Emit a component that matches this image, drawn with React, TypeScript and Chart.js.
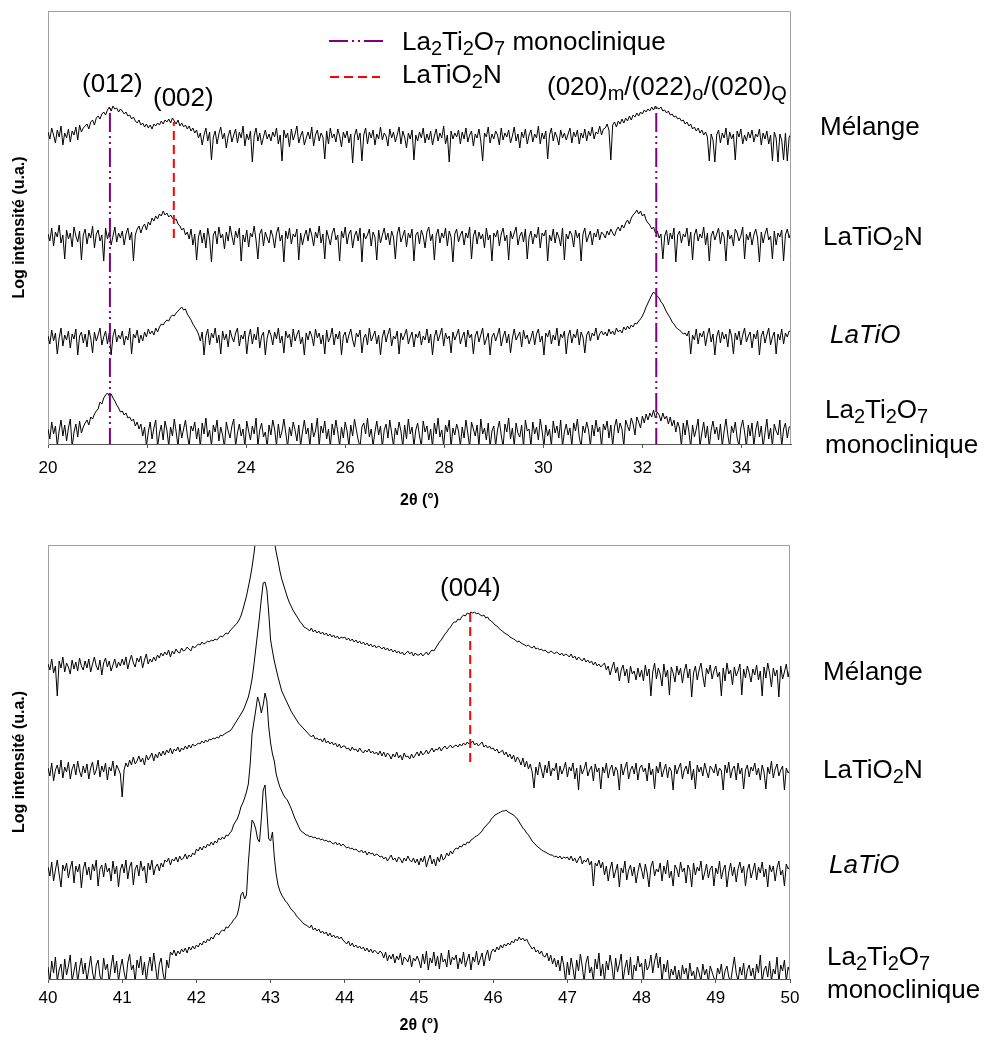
import React, { useEffect, useRef } from "react";
import { Chart, registerables } from "chart.js";

Chart.register(...registerables);

const FONT = '"Liberation Sans", Arial, Helvetica, sans-serif';
const PURPLE = "#800080";
const RED = "#ff0000";
const PURPLE_DASH = [19, 4, 2, 4, 2, 4];
const RED_DASH = [9, 5];

// 2θ sampling of the scans
const TOP_START = 20;
const TOP_STEP = 0.0375;
const BOT_START = 40;
const BOT_STEP = 0.025;

const TOP_TICKS = [20, 22, 24, 26, 28, 30, 32, 34];
const BOT_TICKS = [40, 41, 42, 43, 44, 45, 46, 47, 48, 49, 50];

// ---------- upper panel (20–35°), stacked log intensities ----------
const TOP_MELANGE = [
  312,305,316,309,301,314,307,318,299,311,306,315,302,313,309,317,304,319,312,316,
  318,320,315,322,324,319,326,328,325,330,332,329,334,337,333,338,335,336,332,335,
  333,330,332,328,329,325,327,323,321,324,319,321,317,320,316,319,315,320,318,321,
  319,323,320,324,322,325,321,326,323,320,324,318,321,317,319,315,318,313,316,311,
  314,306,311,299,309,316,303,312,284,307,313,300,310,317,305,311,296,308,314,302,
  309,315,301,312,306,318,298,310,304,313,282,308,316,303,311,299,307,314,305,310,
  303,312,307,316,300,309,283,314,306,311,297,315,304,310,318,301,308,313,299,306,
  312,305,317,298,309,314,303,311,307,285,313,300,316,306,310,302,315,308,297,312,
  306,313,301,310,281,308,315,304,311,283,309,316,300,312,306,314,299,310,305,317,
  304,311,308,298,315,306,312,302,309,317,300,313,307,296,311,305,314,284,309,303,
  312,306,316,301,310,304,313,299,308,315,303,311,306,318,300,309,282,313,305,311,
  307,314,300,312,305,316,302,309,313,298,310,306,315,303,283,311,307,317,301,310,
  305,313,309,299,316,304,311,307,314,301,308,317,303,310,296,312,306,315,300,309,
  314,302,310,306,318,300,311,305,313,285,309,316,303,312,307,299,314,306,311,304,
  310,316,301,312,307,314,300,311,306,315,303,313,308,317,305,312,310,318,309,315,
  316,320,314,284,319,322,317,323,320,325,321,326,323,328,324,329,327,331,328,332,
  330,334,332,335,333,337,334,338,336,335,337,333,334,331,333,329,330,327,328,325,
  326,323,324,320,322,318,320,315,317,313,316,311,314,309,312,307,283,310,304,282,
  309,314,301,311,306,316,299,312,305,310,284,313,307,315,300,309,303,312,306,314,
  302,310,307,315,299,311,305,313,300,309,283,312,306,282,310,304,284,311,283,307,
  310,
];
const TOP_LATIO2N = [
  210,203,216,198,212,207,219,201,209,185,214,205,211,197,217,208,202,213,184,209,
  215,200,211,206,218,196,210,214,203,209,183,216,205,212,199,208,217,202,211,206,
  213,199,210,216,204,212,183,209,215,218,211,217,220,214,222,219,226,223,228,225,
  230,228,233,229,231,227,229,226,224,225,220,218,214,216,209,212,205,215,199,210,
  184,207,214,201,211,196,216,205,182,209,213,200,217,206,210,195,212,203,218,208,
  199,213,206,216,183,209,202,214,197,211,207,218,204,185,210,215,198,212,206,201,
  214,208,196,211,217,203,209,182,213,205,216,200,210,207,215,184,211,199,208,214,
  203,216,209,198,212,206,218,201,210,185,214,207,199,211,216,204,209,183,213,206,
  217,200,210,214,196,208,213,203,216,182,211,205,209,215,198,212,207,184,214,201,
  209,216,204,211,199,213,207,185,210,217,202,208,214,197,211,206,215,183,209,212,
  200,214,208,196,212,217,203,210,184,209,215,201,211,206,216,198,213,207,182,210,
  215,202,209,213,199,211,206,217,185,208,214,200,212,205,210,196,216,204,209,183,
  211,207,214,198,210,216,203,209,184,213,205,211,217,199,208,212,202,215,185,207,
  213,200,210,206,217,196,211,208,214,183,209,203,215,201,212,207,198,216,184,210,
  205,213,209,197,214,206,211,183,210,216,202,208,213,199,211,207,215,204,212,210,
  206,213,209,215,211,208,214,217,213,219,216,221,224,220,226,229,231,234,230,233,
  228,230,224,221,219,215,217,211,213,206,210,185,208,214,199,211,205,216,182,209,
  213,201,210,207,216,198,212,184,209,215,203,210,206,217,199,211,183,208,213,204,
  210,216,200,212,207,183,214,205,209,198,215,211,203,208,217,185,210,204,212,199,
  209,215,206,182,212,201,210,216,204,208,185,213,199,211,207,214,183,209,215,206,
  212,
];
const TOP_LATIO = [
  108,100,114,103,111,90,106,116,98,109,104,113,96,110,105,115,89,108,112,101,
  110,97,114,106,91,112,103,109,116,99,107,113,100,111,89,108,115,102,109,105,
  113,99,108,104,116,90,110,106,114,101,109,103,112,107,115,110,113,109,116,112,
  117,120,119,122,124,123,127,129,128,131,133,135,137,134,135,130,127,124,120,117,
  114,110,103,112,89,108,115,99,111,106,116,101,109,90,113,104,110,97,114,107,
  102,111,116,98,109,105,113,90,107,115,100,110,104,117,96,108,112,89,106,114,
  109,99,112,105,116,101,108,91,113,106,110,97,115,103,109,114,100,107,89,111,
  104,113,108,98,115,106,111,100,109,90,114,102,107,116,99,110,105,113,89,108,
  112,101,109,115,104,97,111,107,114,91,106,110,99,116,103,108,113,100,109,89,
  107,114,102,110,116,98,108,105,113,90,111,104,109,115,100,107,112,97,110,106,
  113,99,108,104,115,101,110,89,107,114,103,109,116,98,111,105,108,91,112,104,
  109,115,100,107,112,97,114,106,110,90,108,113,102,109,116,99,105,111,89,107,
  111,103,109,116,98,107,113,101,110,91,106,115,104,108,112,97,114,105,109,100,
  106,113,99,110,115,102,108,89,111,107,114,100,109,104,116,98,110,106,113,90,
  108,114,101,110,106,115,99,112,107,91,109,113,103,111,108,116,104,110,113,109,
  112,108,115,110,113,109,116,112,114,111,117,114,118,115,119,117,121,120,123,125,
  128,132,137,141,145,149,152,150,148,146,142,140,136,132,129,126,122,120,117,115,
  114,112,110,111,108,113,90,109,104,115,100,111,107,113,98,109,116,102,110,89,
  107,114,101,112,105,110,97,115,108,90,111,104,113,99,109,116,102,108,112,96,
  110,105,114,89,108,113,101,109,116,99,107,112,90,110,104,115,100,111,107,113,
  112,
];
const TOP_LA2TI2O7 = [
  15,5,22,10,18,-2,13,24,8,19,3,16,25,-3,12,20,7,23,11,17,
  21,24,19,27,25,30,33,35,42,40,46,49,51,48,50,46,43,39,36,32,
  33,29,31,26,27,23,25,18,22,15,20,8,17,-2,12,22,5,16,24,-3,
  11,19,4,23,14,-2,17,8,25,12,-3,20,6,15,24,9,-2,18,13,22,
  5,16,-3,21,10,26,7,14,-2,19,12,24,3,17,9,-3,22,13,6,18,
  25,-2,11,20,8,15,-3,23,13,4,18,10,26,-2,14,21,7,12,-3,19,
  9,24,15,-2,20,6,13,25,11,-3,17,8,22,14,3,19,-2,12,24,10,
  16,-3,21,7,13,26,-2,18,11,23,5,15,-3,20,9,24,12,-2,17,6,
  22,13,-2,19,8,25,14,4,-3,17,21,10,26,7,15,-2,12,23,9,18,
  -3,14,20,6,24,11,-2,16,9,22,13,-3,19,5,25,10,17,-2,14,21,
  8,-2,23,12,18,4,15,-3,21,10,26,7,14,-2,19,12,24,-3,16,9,
  20,13,-2,17,6,24,11,-3,22,15,8,19,-2,25,10,16,4,21,-3,13,
  18,-2,14,23,9,-3,20,12,26,5,16,-2,21,11,7,19,-3,24,13,15,
  -2,22,10,17,4,25,13,-3,19,8,15,-2,23,11,18,6,24,-3,12,20,
  9,16,-2,21,13,25,7,-3,18,11,22,14,-2,19,8,24,12,17,-3,20,
  14,23,6,19,-2,17,25,11,21,15,-2,24,18,13,26,20,9,27,22,16,
  28,21,30,24,31,27,34,26,32,29,23,31,25,28,20,27,18,24,12,22,
  16,-2,21,9,24,13,-3,19,7,15,25,-2,11,22,6,18,-3,14,23,10,
  17,4,20,-2,13,25,9,-3,18,11,22,6,-2,16,24,12,-3,19,8,21,
  -2,14,23,7,18,-3,11,25,5,16,-2,20,13,9,24,-3,15,21,6,17,
  18,
];

// ---------- lower panel (40–50°) ----------
const BOT_MELANGE = [
  315,309,320,306,313,283,318,311,322,307,316,312,305,319,310,317,308,321,313,309,
  318,311,320,307,315,322,313,309,319,304,316,321,312,318,308,314,320,311,317,313,
  320,314,322,310,318,324,316,312,321,317,323,311,319,325,315,320,317,322,318,324,
  321,326,323,327,324,329,322,328,325,330,327,326,331,328,329,332,330,328,333,331,
  333,335,334,337,335,336,338,337,339,338,340,339,341,343,342,344,346,345,348,350,
  352,354,356,359,363,369,376,383,392,401,412,425,440,460,480,500,520,524,515,500,
  480,458,438,427,418,408,400,394,388,382,377,373,369,366,363,360,357,355,352,351,
  350,348,351,347,349,346,348,345,347,344,346,343,345,342,344,341,343,340,342,341,
  342,339,341,338,340,337,339,336,338,335,337,334,336,333,335,332,334,331,333,332,
  330,332,329,331,328,330,327,329,326,328,325,327,324,326,328,325,327,323,326,324,
  324,326,323,325,327,324,327,329,328,331,334,337,339,342,345,347,350,352,355,357,
  357,360,359,362,364,363,366,365,367,366,367,365,366,364,363,364,361,362,359,358,
  356,354,353,351,349,348,346,345,344,342,341,340,339,337,338,336,335,334,333,334,
  332,331,333,330,331,329,330,328,329,327,326,328,327,325,327,326,324,326,323,325,
  324,322,325,321,323,319,322,320,318,321,317,319,316,318,314,317,313,315,312,314,
  316,309,313,304,311,317,306,312,298,309,314,303,310,296,313,305,308,299,311,302,
  309,298,314,303,310,283,307,316,300,311,305,293,315,302,309,284,312,306,297,313,
  304,311,296,308,315,301,310,282,306,313,299,309,316,303,292,311,305,314,300,308,
  313,302,307,283,311,298,316,305,309,294,312,303,308,315,284,310,301,313,306,297,
  310,304,314,299,308,283,312,301,316,306,292,311,303,309,282,313,300,307,315,302,
  311,
];
const BOT_LATIO2N = [
  211,203,216,198,209,214,205,219,201,212,207,217,200,210,215,204,218,208,202,213,
  206,215,200,211,217,204,209,219,202,213,207,216,199,212,208,218,203,214,210,205,
  182,209,216,212,219,214,222,215,218,223,217,221,214,224,219,222,226,218,225,221,
  227,223,228,224,229,226,231,225,230,228,232,227,231,229,233,230,234,231,235,233,
  234,236,235,238,236,239,237,240,239,241,240,242,241,244,243,245,246,247,248,250,
  253,256,259,262,265,268,272,277,282,290,300,314,330,346,362,380,396,397,389,366,
  339,328,318,310,302,295,288,284,280,276,272,268,265,262,259,256,254,252,250,248,
  246,244,242,244,240,241,239,240,237,241,236,238,235,237,234,236,232,235,231,233,
  233,230,231,228,232,229,230,227,231,228,226,229,227,230,226,228,225,227,224,228,
  223,227,222,226,224,220,225,222,227,221,224,219,226,222,223,220,225,221,224,227,
  223,228,224,226,229,225,228,231,227,230,229,232,228,231,233,230,232,234,231,233,
  234,232,235,233,236,234,237,235,236,238,234,236,233,235,237,232,234,231,233,230,
  231,228,230,226,227,229,224,227,222,225,220,224,217,222,219,214,221,212,218,210,
  215,207,191,212,204,217,209,201,214,206,218,203,211,208,216,199,213,205,210,217,
  202,212,208,216,200,211,189,214,205,210,217,203,209,213,198,215,207,211,190,212,
  206,216,201,210,214,203,212,208,189,215,204,211,217,200,209,213,205,216,199,211,
  214,207,211,198,216,204,210,190,213,206,217,202,209,215,201,212,208,189,214,205,
  211,216,200,209,213,205,218,199,210,190,214,207,212,203,216,208,201,213,210,206,
  215,203,211,208,189,214,206,217,201,210,213,199,216,205,211,190,209,214,202,212,
  208,216,204,211,199,214,207,190,212,205,218,201,210,215,203,209,213,189,211,206,
  209,
];
const BOT_LATIO = [
  112,103,117,98,109,119,105,92,114,108,116,101,111,118,96,113,107,115,91,110,
  117,104,112,99,115,108,119,93,110,114,102,116,107,111,98,118,105,113,92,109,
  115,106,119,100,112,117,94,110,114,103,118,108,113,96,116,109,119,104,112,115,
  108,116,112,119,117,121,114,120,118,122,117,123,119,121,125,120,124,122,126,124,
  130,128,132,129,133,131,135,133,137,134,138,136,141,139,142,140,144,143,146,148,
  154,157,160,165,172,176,181,187,195,215,245,257,269,282,276,266,274,286,278,252,
  236,225,218,205,198,192,188,184,181,179,175,171,166,161,157,153,149,147,146,144,
  144,142,143,141,142,140,141,139,140,138,139,137,138,136,135,137,134,136,133,135,
  133,131,132,130,131,129,130,128,127,129,126,128,124,127,125,126,123,125,124,122,
  123,120,122,118,121,124,119,121,117,122,120,116,121,118,123,119,117,121,116,120,
  114,121,117,123,112,119,124,115,120,113,122,117,125,119,121,126,123,128,125,129,
  131,130,133,132,135,134,137,136,139,140,142,143,144,146,148,151,153,155,157,160,
  162,164,165,166,167,168,168,169,167,166,165,164,162,160,157,154,151,149,146,144,
  141,138,136,134,132,131,129,128,127,126,125,124,124,122,123,121,123,120,122,121,
  122,119,123,118,121,116,120,123,115,119,117,121,114,118,93,116,113,119,111,117,
  104,113,98,110,117,101,108,115,92,111,106,118,99,109,114,103,112,96,107,116,
  109,100,115,106,92,112,118,103,110,107,116,98,113,105,119,101,108,93,114,110,
  102,117,107,111,96,114,109,92,116,104,112,108,118,99,106,115,101,110,113,93,
  111,105,118,100,109,114,92,107,116,103,112,97,110,117,106,113,93,109,115,101,
  108,116,99,112,106,117,102,110,92,114,107,113,98,111,118,104,109,93,115,110,
  113,
];
const BOT_LA2TI2O7 = [
  12,-3,18,6,22,-2,9,15,-3,20,4,13,24,-2,8,17,-3,11,21,5,
  16,-2,10,23,7,-3,14,19,3,-2,21,9,15,-3,12,24,6,18,-2,11,
  20,7,-2,16,25,9,14,-3,19,11,23,4,17,-2,13,22,8,26,12,-3,
  15,21,6,-3,19,11,27,24,29,23,28,25,30,27,31,26,32,29,33,30,
  34,32,36,34,38,36,40,38,42,40,44,46,44,47,49,48,52,51,54,56,
  59,61,64,72,84,87,80,84,116,140,159,156,150,140,137,160,189,194,168,140,
  138,147,122,105,94,88,84,81,78,76,73,70,68,66,63,61,59,57,55,54,
  53,51,54,49,51,48,50,46,48,45,47,43,46,42,44,41,43,40,42,39,
  37,35,38,33,36,32,34,31,33,30,32,28,31,27,30,26,29,27,25,28,
  26,21,27,18,24,20,25,16,23,19,26,14,22,20,17,24,12,21,18,23,
  18,11,25,15,28,9,21,16,27,13,23,10,26,17,20,12,29,14,22,19,
  24,10,21,15,27,12,19,25,9,22,17,28,14,20,26,13,23,29,18,27,
  30,27,32,29,34,31,35,33,36,34,38,36,40,38,42,39,41,38,40,36,
  33,30,32,27,29,25,28,23,22,26,18,24,15,21,12,19,8,23,14,-2,
  17,4,21,11,-2,19,8,25,13,-3,16,23,6,12,-2,20,10,26,3,15,
  -2,18,9,24,13,-3,21,7,15,25,-2,11,19,4,22,-3,14,8,23,12,
  16,-2,20,9,13,24,6,18,26,11,22,-3,15,7,19,-2,10,4,13,-3,
  9,-3,14,5,11,-2,16,3,8,-3,12,6,-2,15,4,10,-3,13,7,1,
  -3,11,5,15,-2,8,13,2,-3,10,22,6,-2,12,4,16,-3,9,14,3,
  11,-2,15,6,24,-3,9,13,2,18,-2,10,5,22,-3,14,8,19,-2,12,
  6,
];

// reference lines: [2θ, from intensity, to intensity]
type Mark = [number, number, number];
const TOP_PURPLE_MARKS: Mark[] = [[21.25, -3, 336], [32.28, -3, 337]];
const TOP_RED_MARKS: Mark[] = [[22.54, 206, 322]];
const BOT_RED_MARKS: Mark[] = [[45.69, 217, 367]];

// text (underscore = subscript of next character)
const TOP_PEAK_LABELS = ["(012)", "(002)", "(020)_m/(022)_o/(020)_Q"];
const BOT_PEAK_LABELS = ["(004)"];
const SAMPLE_NAMES = ["Mélange", "LaTiO_2N", "LaTiO", "La_2Ti_2O_7", "monoclinique"];
const LEGEND_TEXT = ["La_2Ti_2O_7 monoclinique", "LaTiO_2N"];

function series(vals: number[], start: number, step: number) {
  return vals.map((y, i) => ({ x: Math.round((start + i * step) * 10000) / 10000, y }));
}

function traceDataset(vals: number[], start: number, step: number) {
  return {
    data: series(vals, start, step),
    borderColor: "#000",
    borderWidth: 1,
    pointRadius: 0,
    fill: false,
    tension: 0,
  };
}

function markDatasets(marks: Mark[], color: string, dash: number[]) {
  return marks.map(([x, y0, y1]) => ({
    data: [
      { x, y: y0 },
      { x, y: y1 },
    ],
    borderColor: color,
    borderWidth: 2,
    borderDash: dash,
    pointRadius: 0,
    fill: false,
    tension: 0,
  }));
}

function drawRich(ctx: CanvasRenderingContext2D, text: string, x: number, y: number, size: number, italic = false) {
  let cx = x;
  let i = 0;
  while (i < text.length) {
    let part: string;
    let sub = false;
    if (text[i] === "_") {
      sub = true;
      part = text[i + 1];
      i += 2;
    } else {
      let j = i;
      while (j < text.length && text[j] !== "_") j++;
      part = text.slice(i, j);
      i = j;
    }
    const fs = sub ? Math.round(size * 0.75) : size;
    ctx.font = `${italic ? "italic " : ""}${fs}px ${FONT}`;
    ctx.fillText(part, cx, sub ? y + size * 0.2 : y);
    cx += ctx.measureText(part).width;
  }
}

interface Label {
  text: string;
  x: number;
  y: number;
  italic?: boolean;
}

function makeOverlay(labels: Label[], withLegend: boolean) {
  return {
    id: "overlay",
    afterDraw(chart: any) {
      const ctx: CanvasRenderingContext2D = chart.ctx;
      const a = chart.chartArea;
      ctx.save();
      ctx.setLineDash([]);
      ctx.strokeStyle = "#a0a0a0";
      ctx.lineWidth = 1;
      ctx.beginPath();
      ctx.moveTo(a.left, a.top + 0.5);
      ctx.lineTo(a.right - 0.5, a.top + 0.5);
      ctx.lineTo(a.right - 0.5, a.bottom);
      ctx.stroke();

      ctx.fillStyle = "#000";
      ctx.textAlign = "left";
      ctx.textBaseline = "alphabetic";
      for (const l of labels) drawRich(ctx, l.text, l.x, l.y, 26, !!l.italic);

      if (withLegend) {
        const rows = [
          { color: PURPLE, dash: PURPLE_DASH, x0: 329, x1: 383, ly: 41, ty: 50, text: LEGEND_TEXT[0] },
          { color: RED, dash: RED_DASH, x0: 330, x1: 380, ly: 77, ty: 83, text: LEGEND_TEXT[1] },
        ];
        for (const r of rows) {
          ctx.strokeStyle = r.color;
          ctx.lineWidth = 2;
          ctx.setLineDash(r.dash);
          ctx.beginPath();
          ctx.moveTo(r.x0, r.ly);
          ctx.lineTo(r.x1, r.ly);
          ctx.stroke();
          ctx.setLineDash([]);
          ctx.fillStyle = "#000";
          drawRich(ctx, r.text, 402, r.ty, 26);
        }
      }
      ctx.restore();
    },
  };
}

interface PanelCfg {
  top: number;
  datasets: any[];
  xMin: number;
  xMax: number;
  ticks: number[];
  yMax: number;
  padTop: number;
  padRight: number;
  xHeight: number;
  tickPad: number;
  titlePad: number;
  labels: Label[];
  legend: boolean;
}

function buildChart(canvas: HTMLCanvasElement, cfg: PanelCfg) {
  return new Chart(canvas, {
    type: "line",
    data: { datasets: cfg.datasets },
    options: {
      animation: false,
      responsive: false,
      devicePixelRatio: 1,
      events: [],
      layout: { padding: { top: cfg.padTop, right: cfg.padRight, left: 0, bottom: 0 } },
      plugins: { legend: { display: false }, tooltip: { enabled: false } },
      scales: {
        x: {
          type: "linear",
          min: cfg.xMin,
          max: cfg.xMax,
          afterFit: (s: any) => {
            s.height = cfg.xHeight;
          },
          afterBuildTicks: (s: any) => {
            s.ticks = cfg.ticks.map((v) => ({ value: v }));
          },
          grid: { drawOnChartArea: false, drawTicks: true, tickLength: 4, tickColor: "#555", color: "#555" },
          border: { color: "#555", width: 1 },
          ticks: {
            color: "#000",
            font: { size: 17, family: FONT },
            padding: cfg.tickPad,
            maxRotation: 0,
            autoSkip: false,
          },
          title: {
            display: true,
            text: "2θ (°)",
            color: "#000",
            font: { size: 16, weight: "bold", family: FONT },
            padding: { top: 0, bottom: cfg.titlePad },
          },
        },
        y: {
          type: "linear",
          min: 0,
          max: cfg.yMax,
          afterFit: (s: any) => {
            s.width = 48;
          },
          grid: { drawOnChartArea: false, drawTicks: false },
          border: { color: "#a0a0a0", width: 1 },
          ticks: { display: false },
          title: {
            display: true,
            text: "Log intensité (u.a.)",
            color: "#000",
            font: { size: 16, weight: "bold", family: FONT },
            padding: { top: 10, bottom: 0 },
          },
        },
      },
    } as any,
    plugins: [makeOverlay(cfg.labels, cfg.legend)],
  });
}

function Panel({ cfg }: { cfg: PanelCfg }) {
  const ref = useRef<HTMLCanvasElement | null>(null);
  useEffect(() => {
    if (!ref.current) return;
    const chart = buildChart(ref.current, cfg);
    return () => chart.destroy();
  }, []);
  return (
    <canvas
      ref={ref}
      width={990}
      height={520}
      style={{ position: "absolute", left: 0, top: cfg.top, width: 990, height: 520 }}
    />
  );
}

const topCfg: PanelCfg = {
  top: 0,
  datasets: [
    ...markDatasets(TOP_PURPLE_MARKS, PURPLE, PURPLE_DASH),
    ...markDatasets(TOP_RED_MARKS, RED, RED_DASH),
    traceDataset(TOP_MELANGE, TOP_START, TOP_STEP),
    traceDataset(TOP_LATIO2N, TOP_START, TOP_STEP),
    traceDataset(TOP_LATIO, TOP_START, TOP_STEP),
    traceDataset(TOP_LA2TI2O7, TOP_START, TOP_STEP),
  ],
  xMin: 20,
  xMax: 35,
  ticks: TOP_TICKS,
  yMax: 433,
  padTop: 11,
  padRight: 199,
  xHeight: 76,
  tickPad: 10,
  titlePad: 10,
  legend: true,
  labels: [
    { text: TOP_PEAK_LABELS[0], x: 82, y: 92 },
    { text: TOP_PEAK_LABELS[1], x: 153, y: 106 },
    { text: TOP_PEAK_LABELS[2], x: 547, y: 95 },
    { text: SAMPLE_NAMES[0], x: 820, y: 135 },
    { text: SAMPLE_NAMES[1], x: 823, y: 245 },
    { text: SAMPLE_NAMES[2], x: 830, y: 343, italic: true },
    { text: SAMPLE_NAMES[3], x: 825, y: 418 },
    { text: SAMPLE_NAMES[4], x: 825, y: 453 },
  ],
};

const botCfg: PanelCfg = {
  top: 520,
  datasets: [
    ...markDatasets(BOT_RED_MARKS, RED, RED_DASH),
    traceDataset(BOT_MELANGE, BOT_START, BOT_STEP),
    traceDataset(BOT_LATIO2N, BOT_START, BOT_STEP),
    traceDataset(BOT_LATIO, BOT_START, BOT_STEP),
    traceDataset(BOT_LA2TI2O7, BOT_START, BOT_STEP),
  ],
  xMin: 40,
  xMax: 50,
  ticks: BOT_TICKS,
  yMax: 434,
  padTop: 25,
  padRight: 200,
  xHeight: 61,
  tickPad: 5,
  titlePad: 5,
  legend: false,
  labels: [
    { text: BOT_PEAK_LABELS[0], x: 440, y: 76 },
    { text: SAMPLE_NAMES[0], x: 823, y: 160 },
    { text: SAMPLE_NAMES[1], x: 823, y: 258 },
    { text: SAMPLE_NAMES[2], x: 829, y: 353, italic: true },
    { text: SAMPLE_NAMES[3], x: 827, y: 445 },
    { text: SAMPLE_NAMES[4], x: 827, y: 478 },
  ],
};

export default function App() {
  return (
    <div style={{ position: "absolute", left: 0, top: 0, width: 990, height: 1040, background: "#fff" }}>
      <Panel cfg={topCfg} />
      <Panel cfg={botCfg} />
    </div>
  );
}
